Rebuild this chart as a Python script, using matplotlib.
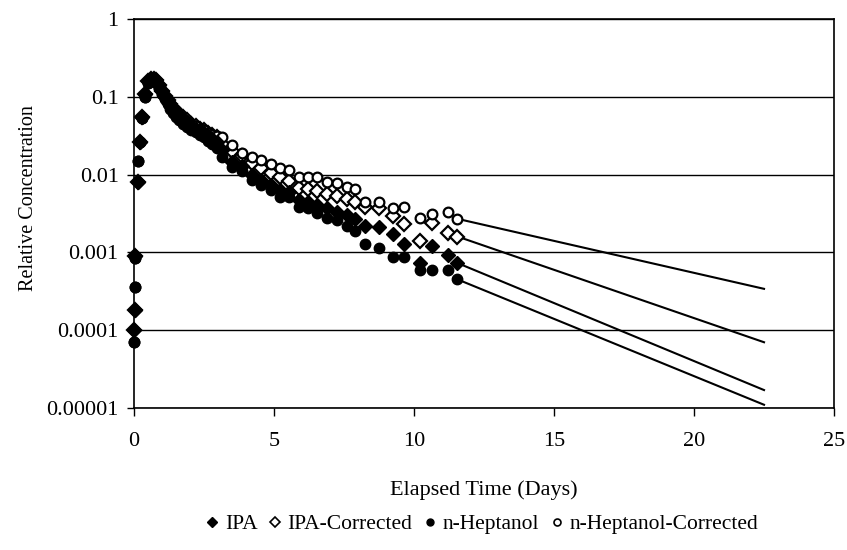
import matplotlib
matplotlib.use('Agg')
import matplotlib.pyplot as plt
from matplotlib.ticker import NullLocator, FixedLocator
from matplotlib.lines import Line2D

plt.rcParams['font.family'] = ['Liberation Serif', 'DejaVu Serif']

# sample times (days), shared by all four series
days = [0.01, 0.03, 0.05, 0.14, 0.2, 0.3, 0.4, 0.5, 0.6, 0.7,
        0.8, 0.9, 1.0, 1.1, 1.2, 1.3, 1.4, 1.5, 1.6, 1.75,
        1.9, 2.05, 2.2, 2.35, 2.5, 2.65, 2.8, 2.95, 3.15, 3.5,
        3.85, 4.2, 4.55, 4.9, 5.2, 5.55, 5.9, 6.2, 6.55, 6.9,
        7.25, 7.6, 7.9, 8.25, 8.75, 9.25, 9.65, 10.2, 10.65, 11.2, 11.55]

# IPA
ipa = [0.0001, 0.00018, 0.0009, 0.008, 0.026, 0.055, 0.11, 0.16, 0.17, 0.17,
       0.165, 0.14, 0.12, 0.1, 0.088, 0.078, 0.07, 0.063, 0.058, 0.052,
       0.047, 0.042, 0.039, 0.036, 0.034, 0.031, 0.029, 0.026, 0.021, 0.0145,
       0.013, 0.01, 0.0085, 0.0074, 0.0064, 0.006, 0.0047, 0.0045, 0.0041, 0.0037,
       0.0033, 0.003, 0.0027, 0.0022, 0.0021, 0.0017, 0.0013, 0.00073, 0.0012, 0.00093, 0.00073]

# IPA-Corrected
ipa_corr = [0.0001, 0.00018, 0.0009, 0.008, 0.026, 0.055, 0.11, 0.16, 0.17, 0.17,
            0.165, 0.14, 0.12, 0.102, 0.09, 0.08, 0.072, 0.066, 0.06, 0.055,
            0.05, 0.045, 0.042, 0.039, 0.037, 0.034, 0.032, 0.03, 0.025, 0.02,
            0.0175, 0.014, 0.012, 0.0105, 0.0092, 0.0083, 0.0068, 0.0066, 0.0062, 0.0056,
            0.0053, 0.0049, 0.0044, 0.0038, 0.0037, 0.0029, 0.0023, 0.0014, 0.0024, 0.0018, 0.0016]

# n-Heptanol
hept = [0.00007, 0.00036, 0.00085, 0.015, 0.026, 0.053, 0.1, 0.15, 0.165, 0.165,
        0.155, 0.13, 0.11, 0.095, 0.08, 0.07, 0.062, 0.055, 0.05, 0.045,
        0.041, 0.037, 0.035, 0.032, 0.03, 0.027, 0.025, 0.022, 0.017, 0.0125,
        0.011, 0.0085, 0.0074, 0.0063, 0.0052, 0.0051, 0.0038, 0.0037, 0.0032, 0.0028,
        0.0026, 0.0022, 0.0019, 0.0013, 0.00115, 0.00087, 0.00087, 0.00059, 0.00059, 0.00059, 0.00045]

# n-Heptanol-Corrected
hept_corr = [0.00007, 0.00036, 0.00085, 0.015, 0.026, 0.053, 0.1, 0.15, 0.165, 0.165,
             0.155, 0.13, 0.112, 0.097, 0.084, 0.075, 0.067, 0.06, 0.056, 0.051,
             0.047, 0.044, 0.042, 0.039, 0.037, 0.034, 0.032, 0.031, 0.03, 0.024,
             0.019, 0.017, 0.0155, 0.0137, 0.012, 0.0115, 0.0093, 0.0093, 0.0093, 0.0081,
             0.0079, 0.0069, 0.0066, 0.0045, 0.0044, 0.0037, 0.0038, 0.0028, 0.0031, 0.0033, 0.0027]

# extrapolated decay lines
fit_days = [11.55, 22.5]
ipa_fit = [0.00073, 0.000017]
ipa_corr_fit = [0.0016, 0.00007]
hept_fit = [0.00045, 0.000011]
hept_corr_fit = [0.0027, 0.00034]

yticks = [0.00001, 0.0001, 0.001, 0.01, 0.1, 1]
ytick_labels = ['0.00001', '0.0001', '0.001', '0.01', '0.1', '1']
xticks = [0, 5, 10, 15, 20, 25]

fig = plt.figure(figsize=(8.47, 5.5), dpi=100)
ax = fig.add_axes([0.1582, 0.2582, 0.8265, 0.7073])

# fitted lines
for yy in [ipa_fit, ipa_corr_fit, hept_fit, hept_corr_fit]:
    ax.plot(fit_days, yy, color='black', lw=1.5, zorder=3)

# data markers (open ones underneath so the early cluster reads solid)
ax.plot(days, ipa_corr, 'D', ms=7, color='white', mec='black', mew=1.6, ls='none', clip_on=False, zorder=4)
ax.plot(days, hept_corr, 'o', ms=7, color='white', mec='black', mew=1.6, ls='none', clip_on=False, zorder=4)
ax.plot(days, ipa, 'D', ms=7, color='black', mec='black', mew=1, ls='none', clip_on=False, zorder=5)
ax.plot(days, hept, 'o', ms=7.5, color='black', mec='black', mew=1, ls='none', clip_on=False, zorder=5)

ax.set_yscale('log')
ax.set_ylim(0.00001, 1)
ax.set_xlim(0, 25)
ax.yaxis.set_major_locator(FixedLocator(yticks))
ax.yaxis.set_minor_locator(NullLocator())
ax.set_yticklabels(ytick_labels)
ax.set_xticks(xticks)

ax.yaxis.grid(True, color='black', lw=1.0)
ax.set_axisbelow(True)
for s in ax.spines.values():
    s.set_color('black')
    s.set_linewidth(1.2)

ax.tick_params(axis='y', direction='out', length=5, width=1, pad=6, labelsize=16)
ax.tick_params(axis='x', direction='out', length=6, width=1, pad=11, labelsize=16)

ax.set_xlabel('Elapsed Time (Days)', fontsize=16, labelpad=21)
ax.set_ylabel('Relative Concentration', fontsize=14.5, labelpad=6)
ax.yaxis.label.set_y(0.54)

# legend
handles = [
    Line2D([], [], marker='D', ls='none', ms=5, color='black', label='IPA'),
    Line2D([], [], marker='D', ls='none', ms=5, mfc='white', mec='black', mew=1.2, label='IPA-Corrected'),
    Line2D([], [], marker='o', ls='none', ms=5, color='black', label='n-Heptanol'),
    Line2D([], [], marker='o', ls='none', ms=5, mfc='white', mec='black', mew=1.2, label='n-Heptanol-Corrected'),
]
fig.legend(handles=handles, loc='center', bbox_to_anchor=(0.57, 0.047), ncol=4,
           frameon=False, fontsize=15.5, handlelength=0.45, handletextpad=0.35,
           columnspacing=0.6, borderpad=0)

fig.savefig('out.png', dpi=100)
